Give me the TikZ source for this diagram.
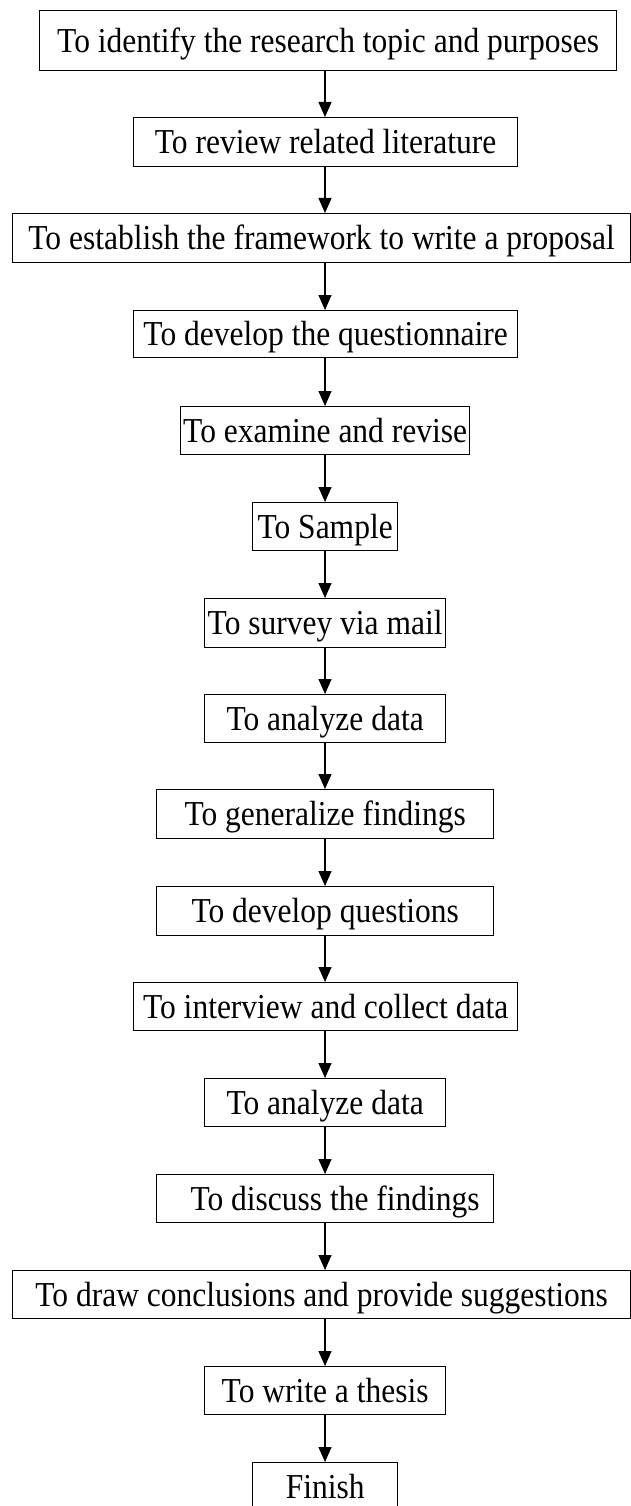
\documentclass[tikz,border=0pt]{standalone}
\usepackage{fontspec}
\setmainfont[FakeStretch=0.9]{Liberation Serif}
\usetikzlibrary{arrows.meta}

\tikzset{
  stepbox/.style={draw, line width=1.3pt, inner sep=0pt, anchor=north west,
    font=\fontsize{35}{38}\selectfont, align=center,
    text height=23pt, text depth=0pt},
  flow/.style={line width=1.3pt, -{Triangle[width=13pt,length=15pt]}}
}

% box(name, left, top, width, height, text)
\newcommand{\procbox}[6]{%
  \node[stepbox, minimum width=#4pt, minimum height=#5pt] (#1) at (#2,#3) {#6};}

\begin{document}
\begin{tikzpicture}[x=1pt, y=-1pt]
\useasboundingbox (0,0) rectangle (631,1506);
\clip (0,0) rectangle (631,1506);

\procbox{s1}{39}{10}{577}{60}{To identify the research topic and purposes}
\procbox{s2}{133}{117}{384}{49}{To review related literature}
\procbox{s3}{12}{213}{618}{49}{To establish the framework to write a proposal}
\procbox{s4}{133}{310}{384}{47}{To develop the questionnaire}
\procbox{s5}{180}{406}{289}{48}{To examine and revise}
\procbox{s6}{252}{502}{145}{48}{To Sample}
\procbox{s7}{204}{598}{241}{49}{To survey via mail}
\procbox{s8}{204}{694}{241}{48}{To analyze data}
\procbox{s9}{156}{789}{337}{49}{To generalize findings}
\procbox{s10}{156}{886}{337}{49}{To develop questions}
\procbox{s11}{133}{982}{384}{48}{To interview and collect data}
\procbox{s12}{204}{1078}{241}{48}{To analyze data}
\procbox{s13}{156}{1174}{337}{48}{\hspace*{20pt}To discuss the findings}
\procbox{s14}{12}{1270}{618}{48}{To draw conclusions and provide suggestions}
\procbox{s15}{204}{1366}{241}{48}{To write a thesis}
\procbox{s16}{252}{1462}{145}{48}{Finish}

% all connectors run down one vertical line
\coordinate (ax) at (325,0);
\foreach \a/\b in {s1/s2,s2/s3,s3/s4,s4/s5,s5/s6,s6/s7,s7/s8,s8/s9,s9/s10,
                   s10/s11,s11/s12,s12/s13,s13/s14,s14/s15,s15/s16}
  \draw[flow] (\a.south -| ax) -- (\b.north -| ax);
\end{tikzpicture}
\end{document}
